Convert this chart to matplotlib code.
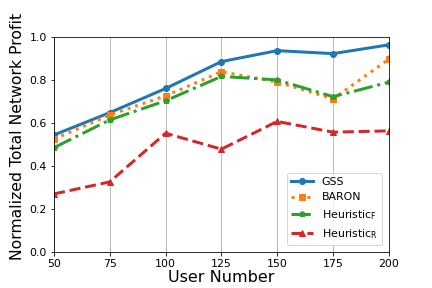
import matplotlib
matplotlib.use("Agg")
import matplotlib.pyplot as plt

users = [50, 75, 100, 125, 150, 175, 200]
gss = [0.544, 0.648, 0.760, 0.885, 0.936, 0.922, 0.963]
baron = [0.525, 0.637, 0.726, 0.838, 0.790, 0.712, 0.896]
heur_f = [0.485, 0.614, 0.703, 0.816, 0.800, 0.722, 0.789]
heur_r = [0.270, 0.326, 0.552, 0.478, 0.607, 0.557, 0.563]

fig = plt.figure(figsize=(6, 4), dpi=72)
ax = fig.add_axes([0.125, 0.125, 0.775, 0.747])

ax.plot(users, gss, '-o', color='tab:blue', lw=3, ms=6, label='GSS')
ax.plot(users, baron, ':s', color='tab:orange', lw=3, ms=6, label='BARON')
ax.plot(users, heur_f, '-.p', color='tab:green', lw=3, ms=6, label=r'Heuristic$_\mathrm{F}$')
ax.plot(users, heur_r, '--^', color='tab:red', lw=3, ms=6, label=r'Heuristic$_\mathrm{R}$')

ax.set_xlim(50, 200)
ax.set_ylim(0, 1)
ax.set_xticks(users)
ax.set_yticks([0.0, 0.2, 0.4, 0.6, 0.8, 1.0])
ax.tick_params(labelsize=11)
ax.xaxis.grid(True, color='#b0b0b0', lw=0.8)
ax.set_xlabel('User Number', fontsize=16, labelpad=1)
ax.set_ylabel('Normalized Total Network Profit', fontsize=15.6, labelpad=5)
ax.yaxis.label.set_y(0.535)
ax.legend(loc='lower right', fontsize=11, borderaxespad=0.6)

fig.savefig('out.png', dpi=72)
